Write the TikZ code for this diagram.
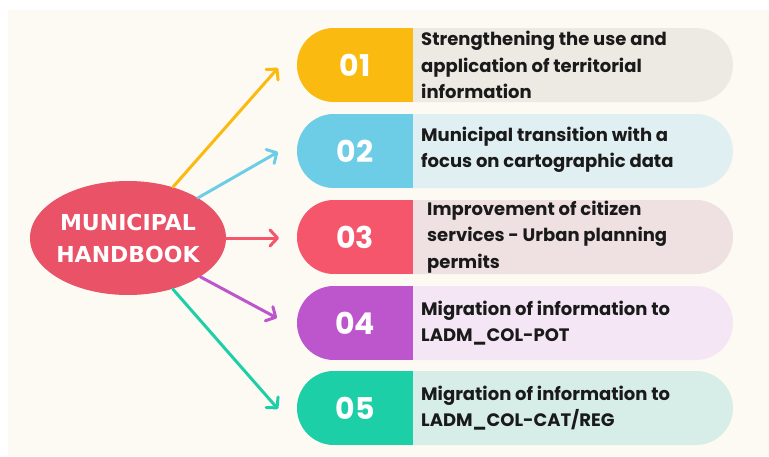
\documentclass[tikz,border=0pt]{standalone}
\usepackage{fontspec}
\usetikzlibrary{arrows.meta,shapes.geometric,shapes.misc}
\newfontfamily\popfont{Poppins}
\newfontfamily\hubfont{DejaVu Sans}
\definecolor{bgcream}{HTML}{FDFAF3}
\definecolor{hubred}{HTML}{EA5267}
\definecolor{cA}{HTML}{FBBA0F}\definecolor{lA}{HTML}{EDE9E3}
\definecolor{cB}{HTML}{6DCDE7}\definecolor{lB}{HTML}{E0EFF1}
\definecolor{cC}{HTML}{F5566B}\definecolor{lC}{HTML}{EFE1E1}
\definecolor{cD}{HTML}{BD56CD}\definecolor{lD}{HTML}{F4E6F4}
\definecolor{cE}{HTML}{1DCFA6}\definecolor{lE}{HTML}{D7EEE8}
\definecolor{txt}{HTML}{1A1A1A}
\tikzset{
  pill/.style 2 args={rounded rectangle, minimum width=436pt, minimum height=74pt,
    inner sep=0pt, fill=#2, draw=none,
    path picture={\fill[#1] (path picture bounding box.south west) rectangle
      ([xshift=116pt]path picture bounding box.north west);}},
  numtxt/.style={text=white, font=\popfont\bfseries\fontsize{30}{30}\selectfont, inner sep=0pt},
  itemtxt/.style={text=txt, anchor=west, align=left, inner sep=0pt,
    font=\popfont\bfseries\fontsize{18}{26.5}\selectfont},
  conn/.style={line width=3pt, draw=#1, -{Straight Barb[length=7.5pt,width=16pt,line cap=round,line join=round]}, line cap=round}
}
\begin{document}
\begin{tikzpicture}[x=1pt,y=-1pt]
\useasboundingbox (0,0) rectangle (769,456);
\fill[white] (0,0) rectangle (769,456);
\fill[bgcream] (8,10) rectangle (769,456);

\node[pill={cA}{lA}] (p1) at (515,65) {};
\node[pill={cB}{lB}] (p2) at (515,151) {};
\node[pill={cC}{lC}] (p3) at (515,237) {};
\node[pill={cD}{lD}] (p4) at (515,323) {};
\node[pill={cE}{lE}] (p5) at (515,408) {};

\node[numtxt] (n1) at (355,65) {01};
\node[numtxt] (n2) at (355,151) {02};
\node[numtxt] (n3) at (355,237) {03};
\node[numtxt] (n4) at (355,323) {04};
\node[numtxt] (n5) at (355,408) {05};

\node[itemtxt] (t1) at (421,65) {Strengthening the use and\\application of territorial\\information};
\node[itemtxt] (t2) at (421,150) {Municipal transition with a\\focus on cartographic data};
\node[itemtxt] (t3) at (427,237) {Improvement of citizen\\services - Urban planning\\permits};
\node[itemtxt] (t4) at (421,323) {Migration of information to\\LADM\_COL-POT};
\node[itemtxt] (t5) at (421,408) {Migration of information to\\LADM\_COL-CAT/REG};

\node[ellipse, fill=hubred, minimum width=196pt, minimum height=114pt, inner sep=0pt] (hub) at (128,238) {};
\node[text=white, align=center, inner sep=0pt, font=\hubfont\bfseries\fontsize{22}{32}\selectfont] (hubtxt) at (128,238) {MUNICIPAL\\HANDBOOK};

\coordinate (a1) at (278,68);
\coordinate (a2) at (278,152);
\coordinate (a3) at (279,238);
\coordinate (a4) at (277,318);
\coordinate (a5) at (278,409);

\draw[conn=cA] (hub) -- (a1);
\draw[conn=cB] (hub) -- (a2);
\draw[conn=cC] (hub) -- (a3);
\draw[conn=cD] (hub) -- (a4);
\draw[conn=cE] (hub) -- (a5);
\end{tikzpicture}
\end{document}
